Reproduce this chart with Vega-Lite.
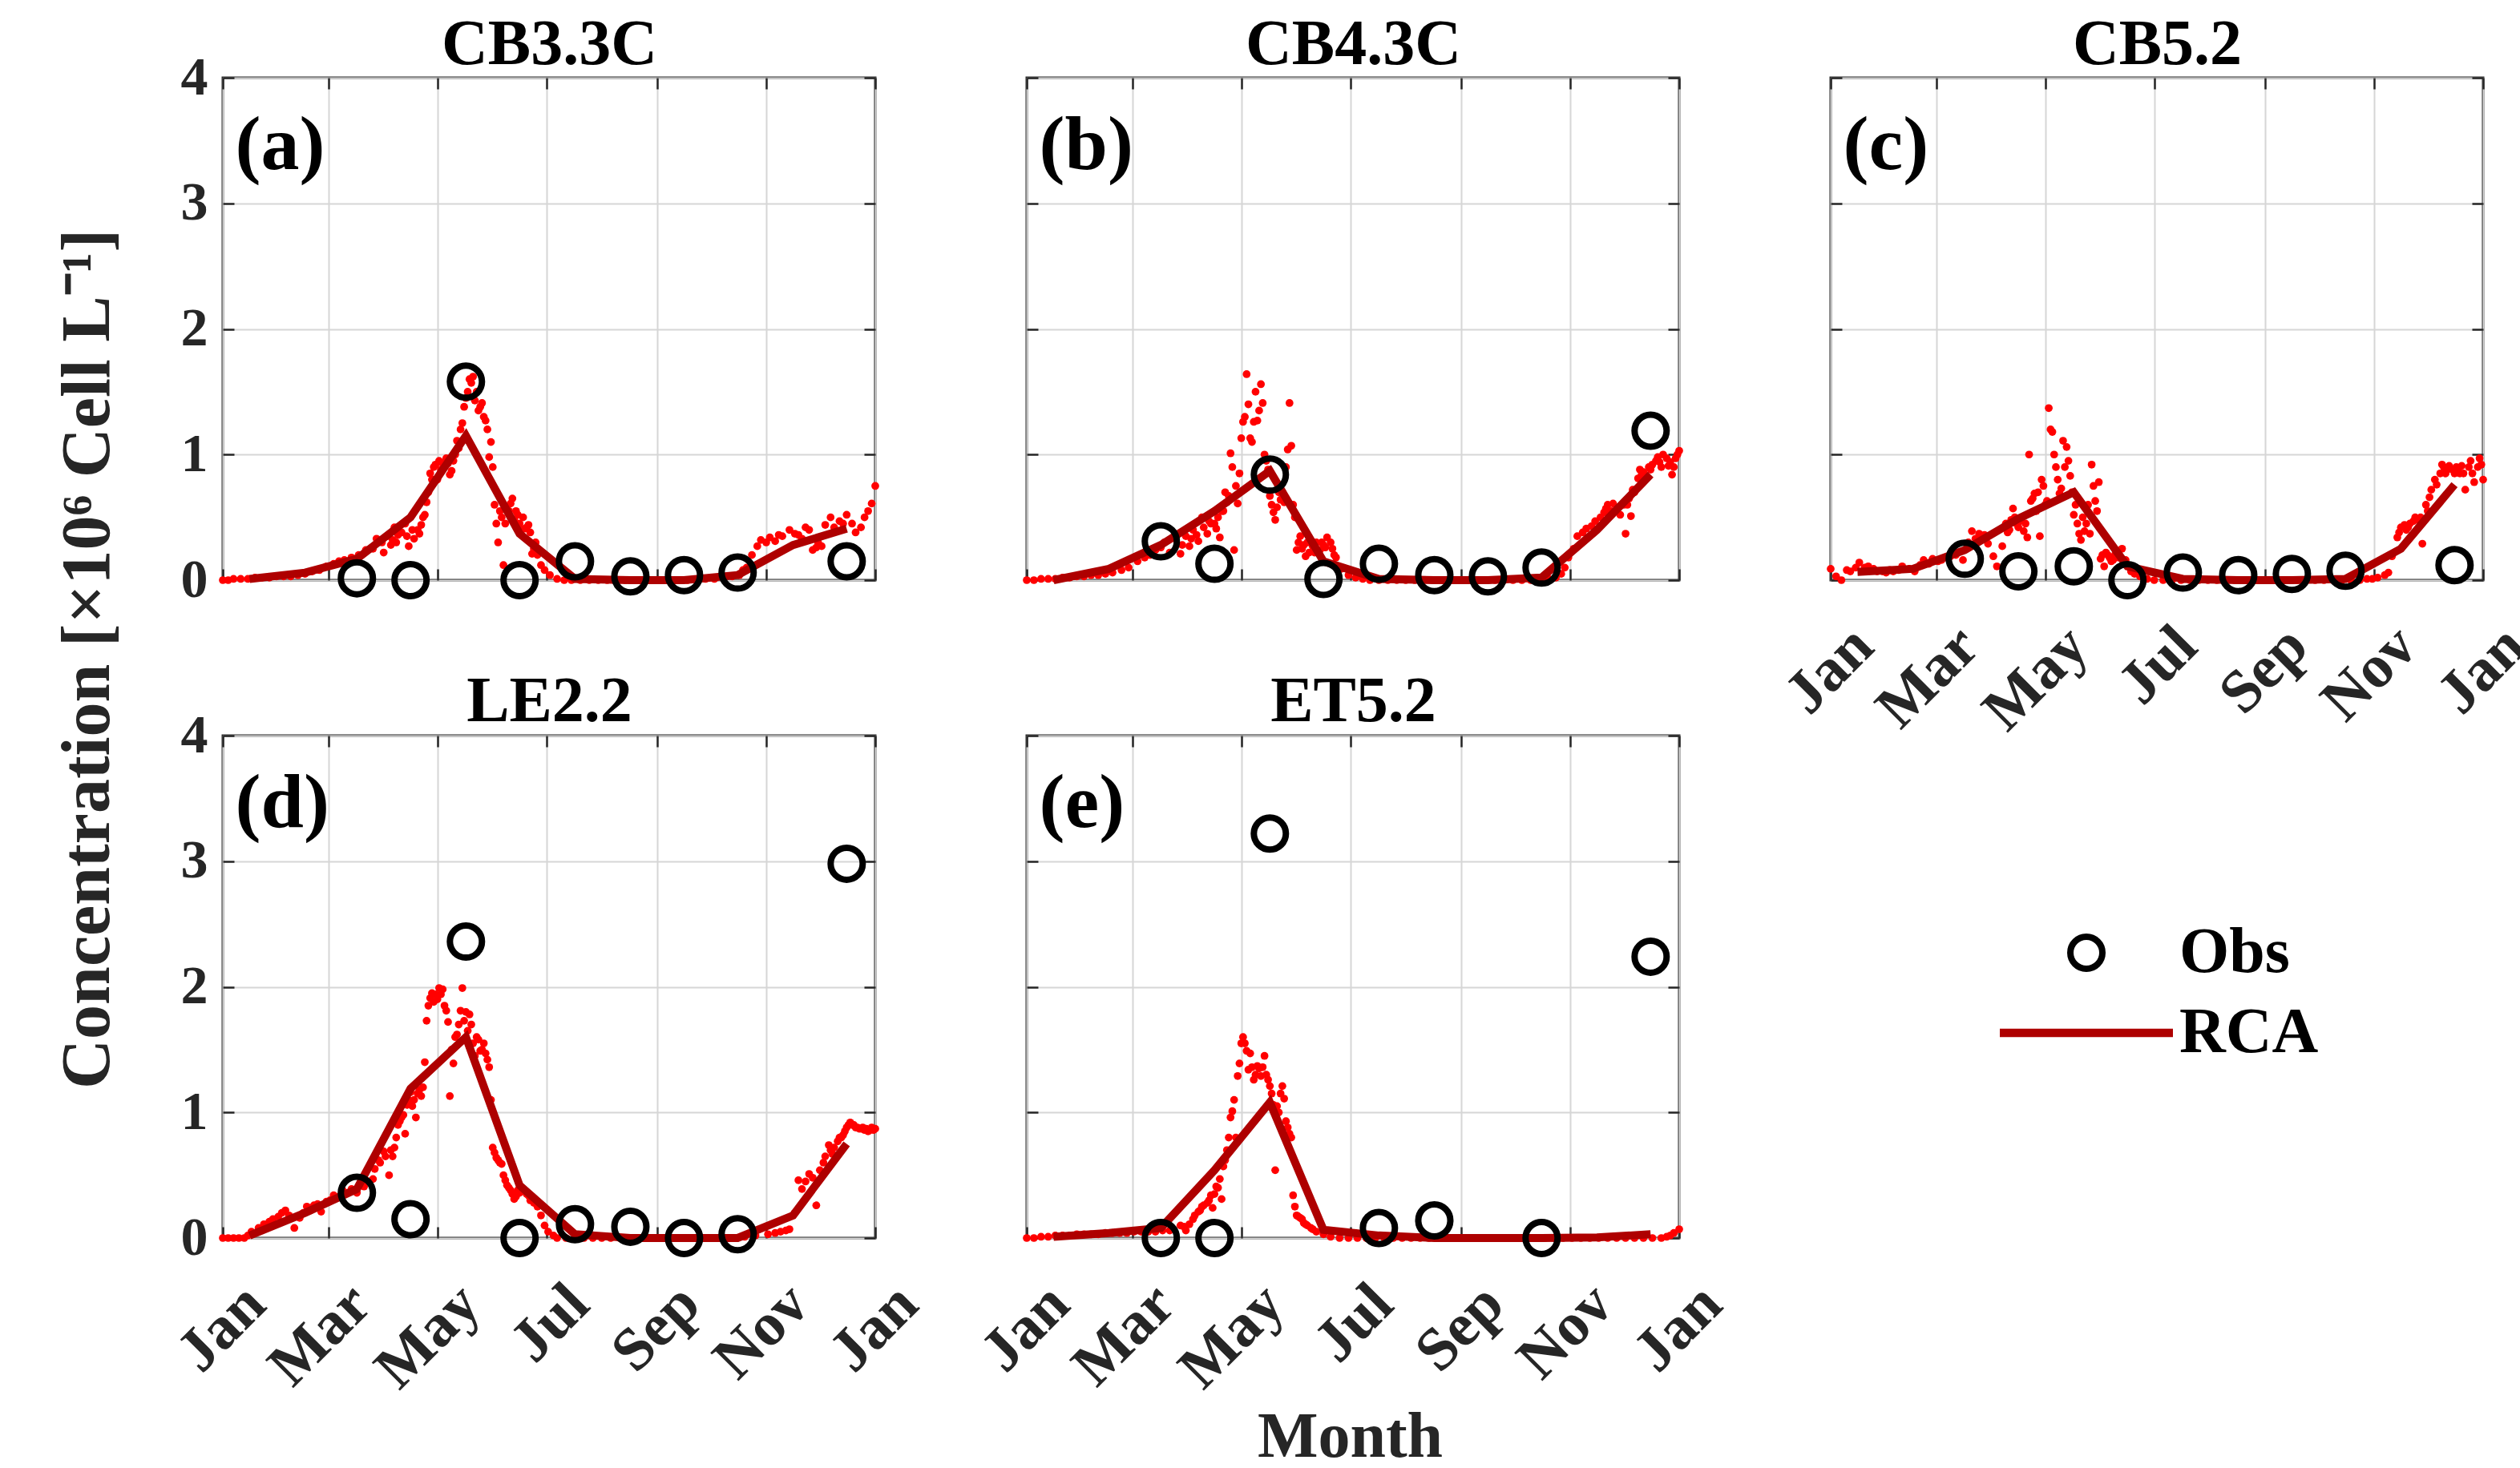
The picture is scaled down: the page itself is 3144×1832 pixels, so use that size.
{
  "$schema": "https://vega.github.io/schema/vega-lite/v6.json",
  "background": "white",
  "padding": {"left": 64, "top": 13, "right": 5, "bottom": 0},
  "config": {
    "font": "Liberation Serif",
    "view": {"stroke": "#262626", "strokeWidth": 3},
    "axis": {
      "labelFont": "Liberation Serif", "labelFontSize": 68, "labelFontWeight": "bold", "labelColor": "#262626",
      "labelFlush": false, "labelOverlap": false, "labelBound": false,
      "domain": false, "ticks": true, "tickColor": "#262626", "tickWidth": 2.5, "tickSize": -14,
      "gridColor": "#d6d6d6", "gridWidth": 2,
      "titleFont": "Liberation Serif", "titleFontWeight": "bold", "titleColor": "#262626"
    },
    "axisBottom": {"labelAngle": -45, "labelAlign": "right", "labelBaseline": "top", "labelPadding": 58, "labelOffset": 14, "labelFontSize": 76},
    "axisLeft": {"labelPadding": 33},
    "axisTop": {"titleFontSize": 80, "titleColor": "#000000", "titleAlign": "center", "titleBaseline": "alphabetic", "titleX": 407, "titleY": -18},
    "circle": {"size": 95, "color": "#ff0000", "opacity": 1},
    "line": {"color": "#ae0000", "strokeWidth": 10},
    "point": {"filled": false, "size": 1600, "strokeWidth": 8, "color": "#000000", "opacity": 1},
    "text": {"font": "Liberation Serif", "fontSize": 96, "fontWeight": "bold", "align": "left", "baseline": "alphabetic", "color": "#000000"}
  },
  "datasets": {
    "dots_a": [
      {"day":0,"v":0},{"day":3,"v":0},{"day":6,"v":0.01},{"day":10,"v":0.01},{"day":14,"v":0.01},{"day":18,"v":0.02},{"day":22,"v":0.02},{"day":26,"v":0.02},{"day":30,"v":0.03},{"day":34,"v":0.03},{"day":38,"v":0.03},{"day":42,"v":0.04},{"day":46,"v":0.05},{"day":50,"v":0.07},{"day":54,"v":0.08},{"day":58,"v":0.11},{"day":62,"v":0.13},{"day":65,"v":0.15},{"day":68,"v":0.16},{"day":72,"v":0.18},{"day":76,"v":0.2},{"day":80,"v":0.24},{"day":84,"v":0.25},{"day":86,"v":0.33},{"day":89,"v":0.3},{"day":90,"v":0.22},{"day":92,"v":0.35},{"day":94,"v":0.28},{"day":95,"v":0.32},{"day":96,"v":0.42},{"day":97,"v":0.3},{"day":98,"v":0.36},{"day":100,"v":0.38},{"day":102,"v":0.45},{"day":103,"v":0.35},{"day":104,"v":0.27},{"day":106,"v":0.4},{"day":107,"v":0.33},{"day":109,"v":0.4},{"day":110,"v":0.37},{"day":111,"v":0.44},{"day":112,"v":0.5},{"day":113,"v":0.52},{"day":114,"v":0.62},{"day":115,"v":0.7},{"day":116,"v":0.85},{"day":117,"v":0.8},{"day":118,"v":0.9},{"day":119,"v":0.92},{"day":120,"v":0.8},{"day":121,"v":0.95},{"day":122,"v":0.88},{"day":123,"v":0.93},{"day":124,"v":0.9},{"day":125,"v":0.97},{"day":126,"v":0.93},{"day":127,"v":0.84},{"day":128,"v":0.87},{"day":129,"v":0.95},{"day":130,"v":1.0},{"day":131,"v":1.11},{"day":132,"v":1.05},{"day":133,"v":1.2},{"day":134,"v":1.25},{"day":135,"v":1.38},{"day":136,"v":1.45},{"day":137,"v":1.5},{"day":138,"v":1.6},{"day":139,"v":1.57},{"day":140,"v":1.62},{"day":141,"v":1.43},{"day":142,"v":1.5},{"day":143,"v":1.35},{"day":144,"v":1.38},{"day":145,"v":1.41},{"day":146,"v":1.3},{"day":147,"v":1.27},{"day":148,"v":1.2},{"day":149,"v":0.98},{"day":150,"v":1.1},{"day":151,"v":0.9},{"day":152,"v":0.6},{"day":153,"v":0.45},{"day":154,"v":0.3},{"day":155,"v":0.55},{"day":156,"v":0.5},{"day":157,"v":0.12},{"day":158,"v":0.45},{"day":159,"v":0.58},{"day":160,"v":0.55},{"day":161,"v":0.61},{"day":162,"v":0.65},{"day":163,"v":0.48},{"day":164,"v":0.55},{"day":165,"v":0.52},{"day":166,"v":0.45},{"day":167,"v":0.4},{"day":168,"v":0.5},{"day":169,"v":0.41},{"day":170,"v":0.42},{"day":171,"v":0.44},{"day":172,"v":0.38},{"day":173,"v":0.21},{"day":174,"v":0.25},{"day":175,"v":0.3},{"day":176,"v":0.2},{"day":178,"v":0.12},{"day":180,"v":0.08},{"day":183,"v":0.04},{"day":187,"v":0.01},{"day":191,"v":0},{"day":195,"v":0},{"day":200,"v":0},{"day":205,"v":0},{"day":210,"v":0},{"day":215,"v":0},{"day":220,"v":0},{"day":225,"v":0},{"day":230,"v":0},{"day":235,"v":0},{"day":240,"v":0},{"day":245,"v":0},{"day":250,"v":0},{"day":255,"v":0},{"day":260,"v":0},{"day":265,"v":0},{"day":270,"v":0.01},{"day":275,"v":0.01},{"day":280,"v":0.02},{"day":285,"v":0.03},{"day":289,"v":0.04},{"day":291,"v":0.08},{"day":293,"v":0.1},{"day":296,"v":0.2},{"day":299,"v":0.27},{"day":301,"v":0.32},{"day":304,"v":0.3},{"day":306,"v":0.34},{"day":309,"v":0.31},{"day":311,"v":0.36},{"day":313,"v":0.35},{"day":317,"v":0.4},{"day":320,"v":0.37},{"day":322,"v":0.36},{"day":324,"v":0.33},{"day":326,"v":0.42},{"day":328,"v":0.4},{"day":330,"v":0.24},{"day":332,"v":0.26},{"day":333,"v":0.3},{"day":335,"v":0.27},{"day":337,"v":0.44},{"day":340,"v":0.5},{"day":342,"v":0.42},{"day":345,"v":0.47},{"day":347,"v":0.45},{"day":349,"v":0.52},{"day":352,"v":0.45},{"day":354,"v":0.38},{"day":357,"v":0.42},{"day":359,"v":0.5},{"day":361,"v":0.55},{"day":363,"v":0.61},{"day":365,"v":0.75}
    ],
    "rca_a": [
      {"day":15,"v":0.01},{"day":46,"v":0.06},{"day":75,"v":0.17},{"day":105,"v":0.5},{"day":136,"v":1.15},{"day":166,"v":0.37},{"day":197,"v":0.01},{"day":228,"v":0},{"day":258,"v":0},{"day":288,"v":0.04},{"day":319,"v":0.28},{"day":349,"v":0.41}
    ],
    "obs_a": [
      {"day":75,"v":0.015},{"day":105,"v":0},{"day":136,"v":1.58},{"day":166,"v":0},{"day":197,"v":0.15},{"day":228,"v":0.03},{"day":258,"v":0.04},{"day":288,"v":0.06},{"day":349,"v":0.15}
    ],
    "dots_b": [
      {"day":0,"v":0},{"day":4,"v":0},{"day":8,"v":0.01},{"day":12,"v":0.01},{"day":16,"v":0.01},{"day":20,"v":0.02},{"day":24,"v":0.02},{"day":28,"v":0.03},{"day":32,"v":0.03},{"day":36,"v":0.04},{"day":40,"v":0.04},{"day":44,"v":0.05},{"day":48,"v":0.06},{"day":53,"v":0.08},{"day":57,"v":0.1},{"day":62,"v":0.15},{"day":66,"v":0.18},{"day":69,"v":0.2},{"day":72,"v":0.24},{"day":75,"v":0.26},{"day":77,"v":0.3},{"day":80,"v":0.22},{"day":83,"v":0.33},{"day":86,"v":0.21},{"day":87,"v":0.28},{"day":89,"v":0.35},{"day":91,"v":0.27},{"day":92,"v":0.33},{"day":93,"v":0.4},{"day":95,"v":0.36},{"day":96,"v":0.31},{"day":98,"v":0.5},{"day":99,"v":0.42},{"day":101,"v":0.37},{"day":102,"v":0.47},{"day":103,"v":0.45},{"day":105,"v":0.45},{"day":106,"v":0.41},{"day":107,"v":0.5},{"day":108,"v":0.34},{"day":109,"v":0.55},{"day":110,"v":0.55},{"day":111,"v":0.7},{"day":112,"v":0.62},{"day":113,"v":0.67},{"day":114,"v":1.01},{"day":115,"v":0.9},{"day":116,"v":0.24},{"day":117,"v":0.75},{"day":118,"v":0.61},{"day":119,"v":0.85},{"day":120,"v":1.13},{"day":121,"v":1.26},{"day":122,"v":1.3},{"day":123,"v":1.64},{"day":124,"v":1.4},{"day":125,"v":1.13},{"day":126,"v":1.1},{"day":127,"v":1.26},{"day":128,"v":1.5},{"day":129,"v":1.27},{"day":130,"v":1.35},{"day":131,"v":1.56},{"day":132,"v":1.41},{"day":133,"v":1.0},{"day":134,"v":0.95},{"day":135,"v":0.88},{"day":136,"v":0.67},{"day":137,"v":0.6},{"day":138,"v":0.54},{"day":139,"v":0.48},{"day":140,"v":0.58},{"day":141,"v":0.7},{"day":142,"v":0.64},{"day":143,"v":0.7},{"day":144,"v":0.62},{"day":145,"v":0.9},{"day":146,"v":1.04},{"day":147,"v":1.41},{"day":148,"v":1.07},{"day":149,"v":0.6},{"day":150,"v":0.5},{"day":151,"v":0.24},{"day":152,"v":0.3},{"day":153,"v":0.35},{"day":154,"v":0.25},{"day":155,"v":0.28},{"day":156,"v":0.19},{"day":157,"v":0.3},{"day":158,"v":0.22},{"day":159,"v":0.31},{"day":160,"v":0.27},{"day":161,"v":0.22},{"day":162,"v":0.3},{"day":164,"v":0.24},{"day":165,"v":0.3},{"day":166,"v":0.28},{"day":167,"v":0.26},{"day":168,"v":0.34},{"day":170,"v":0.3},{"day":171,"v":0.25},{"day":172,"v":0.2},{"day":173,"v":0.18},{"day":176,"v":0.09},{"day":180,"v":0.04},{"day":184,"v":0.02},{"day":188,"v":0.01},{"day":192,"v":0},{"day":197,"v":0},{"day":202,"v":0},{"day":207,"v":0},{"day":212,"v":0},{"day":217,"v":0},{"day":222,"v":0},{"day":227,"v":0},{"day":232,"v":0},{"day":237,"v":0},{"day":242,"v":0},{"day":247,"v":0},{"day":252,"v":0},{"day":257,"v":0},{"day":262,"v":0},{"day":267,"v":0},{"day":272,"v":0},{"day":277,"v":0},{"day":282,"v":0},{"day":287,"v":0.01},{"day":292,"v":0.01},{"day":296,"v":0.02},{"day":299,"v":0.05},{"day":301,"v":0.1},{"day":303,"v":0.18},{"day":306,"v":0.25},{"day":308,"v":0.35},{"day":311,"v":0.38},{"day":313,"v":0.41},{"day":316,"v":0.43},{"day":318,"v":0.47},{"day":321,"v":0.5},{"day":323,"v":0.54},{"day":324,"v":0.57},{"day":325,"v":0.6},{"day":327,"v":0.55},{"day":328,"v":0.61},{"day":330,"v":0.56},{"day":331,"v":0.58},{"day":332,"v":0.52},{"day":334,"v":0.6},{"day":335,"v":0.37},{"day":336,"v":0.6},{"day":337,"v":0.65},{"day":338,"v":0.51},{"day":339,"v":0.72},{"day":340,"v":0.7},{"day":342,"v":0.81},{"day":343,"v":0.88},{"day":344,"v":0.84},{"day":345,"v":0.86},{"day":346,"v":0.8},{"day":348,"v":0.9},{"day":349,"v":0.88},{"day":350,"v":0.92},{"day":352,"v":0.95},{"day":353,"v":0.98},{"day":354,"v":0.94},{"day":355,"v":0.9},{"day":356,"v":1.0},{"day":358,"v":0.97},{"day":359,"v":0.91},{"day":360,"v":0.94},{"day":361,"v":0.84},{"day":362,"v":0.9},{"day":363,"v":0.97},{"day":364,"v":1.0},{"day":365,"v":1.03}
    ],
    "rca_b": [
      {"day":15,"v":0.0},{"day":46,"v":0.09},{"day":75,"v":0.28},{"day":105,"v":0.55},{"day":136,"v":0.87},{"day":166,"v":0.15},{"day":197,"v":0.01},{"day":228,"v":0},{"day":258,"v":0},{"day":288,"v":0.02},{"day":319,"v":0.4},{"day":349,"v":0.84}
    ],
    "obs_b": [
      {"day":75,"v":0.31},{"day":105,"v":0.13},{"day":136,"v":0.84},{"day":166,"v":0.01},{"day":197,"v":0.13},{"day":228,"v":0.04},{"day":258,"v":0.03},{"day":288,"v":0.1},{"day":349,"v":1.19}
    ],
    "dots_c": [
      {"day":0,"v":0.09},{"day":3,"v":0.03},{"day":6,"v":0.0},{"day":9,"v":0.08},{"day":11,"v":0.07},{"day":14,"v":0.1},{"day":16,"v":0.14},{"day":19,"v":0.1},{"day":21,"v":0.11},{"day":24,"v":0.09},{"day":26,"v":0.07},{"day":29,"v":0.07},{"day":31,"v":0.06},{"day":33,"v":0.08},{"day":35,"v":0.07},{"day":38,"v":0.08},{"day":40,"v":0.11},{"day":44,"v":0.09},{"day":47,"v":0.07},{"day":50,"v":0.12},{"day":52,"v":0.16},{"day":55,"v":0.13},{"day":57,"v":0.17},{"day":60,"v":0.15},{"day":62,"v":0.16},{"day":65,"v":0.18},{"day":67,"v":0.19},{"day":70,"v":0.2},{"day":74,"v":0.16},{"day":77,"v":0.3},{"day":79,"v":0.39},{"day":81,"v":0.33},{"day":83,"v":0.37},{"day":84,"v":0.34},{"day":86,"v":0.36},{"day":88,"v":0.29},{"day":91,"v":0.19},{"day":93,"v":0.11},{"day":96,"v":0.27},{"day":98,"v":0.45},{"day":99,"v":0.38},{"day":100,"v":0.4},{"day":101,"v":0.48},{"day":102,"v":0.57},{"day":103,"v":0.5},{"day":104,"v":0.45},{"day":105,"v":0.42},{"day":106,"v":0.47},{"day":107,"v":0.5},{"day":108,"v":0.39},{"day":109,"v":0.45},{"day":110,"v":0.34},{"day":111,"v":1.0},{"day":112,"v":0.63},{"day":113,"v":0.65},{"day":114,"v":0.69},{"day":115,"v":0.55},{"day":116,"v":0.7},{"day":117,"v":0.35},{"day":118,"v":0.8},{"day":119,"v":0.75},{"day":120,"v":0.6},{"day":121,"v":0.63},{"day":122,"v":1.37},{"day":123,"v":1.2},{"day":124,"v":1.18},{"day":125,"v":1.0},{"day":126,"v":0.9},{"day":127,"v":0.8},{"day":128,"v":0.69},{"day":129,"v":0.73},{"day":130,"v":1.11},{"day":131,"v":0.9},{"day":132,"v":1.06},{"day":133,"v":0.95},{"day":134,"v":0.83},{"day":135,"v":0.7},{"day":136,"v":0.52},{"day":137,"v":0.6},{"day":138,"v":0.45},{"day":139,"v":0.37},{"day":140,"v":0.32},{"day":141,"v":0.5},{"day":142,"v":0.39},{"day":143,"v":0.45},{"day":144,"v":0.6},{"day":145,"v":0.37},{"day":146,"v":0.92},{"day":147,"v":0.75},{"day":148,"v":0.63},{"day":149,"v":0.55},{"day":150,"v":0.78},{"day":151,"v":0.17},{"day":152,"v":0.2},{"day":153,"v":0.11},{"day":154,"v":0.22},{"day":155,"v":0.2},{"day":156,"v":0.18},{"day":157,"v":0.15},{"day":158,"v":0.16},{"day":159,"v":0.2},{"day":160,"v":0.22},{"day":161,"v":0.18},{"day":163,"v":0.25},{"day":165,"v":0.16},{"day":168,"v":0.07},{"day":170,"v":0.05},{"day":173,"v":0.03},{"day":177,"v":0.01},{"day":181,"v":0},{"day":186,"v":0},{"day":191,"v":0},{"day":196,"v":0},{"day":201,"v":0},{"day":206,"v":0},{"day":211,"v":0},{"day":216,"v":0},{"day":221,"v":0},{"day":226,"v":0},{"day":231,"v":0},{"day":236,"v":0},{"day":241,"v":0},{"day":246,"v":0},{"day":251,"v":0},{"day":256,"v":0},{"day":261,"v":0},{"day":266,"v":0},{"day":271,"v":0},{"day":276,"v":0},{"day":281,"v":0},{"day":286,"v":0},{"day":291,"v":0},{"day":296,"v":0},{"day":300,"v":0.01},{"day":303,"v":0.01},{"day":306,"v":0.02},{"day":310,"v":0.04},{"day":312,"v":0.06},{"day":314,"v":0.19},{"day":317,"v":0.34},{"day":318,"v":0.38},{"day":319,"v":0.42},{"day":321,"v":0.44},{"day":322,"v":0.4},{"day":323,"v":0.42},{"day":324,"v":0.45},{"day":326,"v":0.47},{"day":327,"v":0.5},{"day":329,"v":0.48},{"day":330,"v":0.5},{"day":331,"v":0.29},{"day":333,"v":0.6},{"day":334,"v":0.55},{"day":335,"v":0.66},{"day":336,"v":0.72},{"day":338,"v":0.8},{"day":339,"v":0.76},{"day":341,"v":0.85},{"day":342,"v":0.92},{"day":343,"v":0.9},{"day":344,"v":0.85},{"day":345,"v":0.88},{"day":346,"v":0.91},{"day":348,"v":0.88},{"day":349,"v":0.85},{"day":350,"v":0.9},{"day":351,"v":0.87},{"day":352,"v":0.85},{"day":353,"v":0.91},{"day":354,"v":0.85},{"day":355,"v":0.72},{"day":357,"v":0.9},{"day":358,"v":0.95},{"day":359,"v":0.85},{"day":360,"v":0.78},{"day":362,"v":0.9},{"day":363,"v":0.97},{"day":364,"v":0.92},{"day":365,"v":0.8}
    ],
    "rca_c": [
      {"day":15,"v":0.065},{"day":46,"v":0.09},{"day":75,"v":0.24},{"day":105,"v":0.49},{"day":136,"v":0.7},{"day":166,"v":0.11},{"day":197,"v":0.01},{"day":228,"v":0},{"day":258,"v":0},{"day":288,"v":0.01},{"day":319,"v":0.25},{"day":349,"v":0.76}
    ],
    "obs_c": [
      {"day":75,"v":0.17},{"day":105,"v":0.07},{"day":136,"v":0.11},{"day":166,"v":0},{"day":197,"v":0.06},{"day":228,"v":0.04},{"day":258,"v":0.05},{"day":288,"v":0.075},{"day":349,"v":0.12}
    ],
    "dots_d": [
      {"day":0,"v":0},{"day":3,"v":0},{"day":6,"v":0},{"day":9,"v":0},{"day":12,"v":0},{"day":14,"v":0.02},{"day":16,"v":0.05},{"day":20,"v":0.08},{"day":23,"v":0.11},{"day":26,"v":0.13},{"day":28,"v":0.15},{"day":31,"v":0.17},{"day":33,"v":0.2},{"day":35,"v":0.22},{"day":37,"v":0.18},{"day":40,"v":0.08},{"day":43,"v":0.16},{"day":45,"v":0.2},{"day":47,"v":0.25},{"day":49,"v":0.22},{"day":51,"v":0.26},{"day":53,"v":0.27},{"day":55,"v":0.21},{"day":58,"v":0.29},{"day":60,"v":0.3},{"day":62,"v":0.34},{"day":65,"v":0.33},{"day":67,"v":0.38},{"day":70,"v":0.36},{"day":72,"v":0.39},{"day":75,"v":0.36},{"day":77,"v":0.44},{"day":79,"v":0.41},{"day":82,"v":0.45},{"day":84,"v":0.47},{"day":85,"v":0.55},{"day":87,"v":0.62},{"day":88,"v":0.6},{"day":90,"v":0.69},{"day":91,"v":0.65},{"day":93,"v":0.5},{"day":94,"v":0.7},{"day":95,"v":0.65},{"day":96,"v":0.72},{"day":97,"v":0.8},{"day":98,"v":0.9},{"day":99,"v":0.93},{"day":100,"v":0.96},{"day":101,"v":0.98},{"day":102,"v":0.83},{"day":103,"v":1.06},{"day":104,"v":1.1},{"day":105,"v":1.16},{"day":106,"v":1.05},{"day":107,"v":1.1},{"day":108,"v":0.96},{"day":109,"v":1.15},{"day":110,"v":1.18},{"day":111,"v":1.13},{"day":112,"v":1.2},{"day":113,"v":1.4},{"day":114,"v":1.73},{"day":115,"v":1.85},{"day":116,"v":1.91},{"day":117,"v":1.95},{"day":118,"v":1.88},{"day":119,"v":1.94},{"day":120,"v":1.9},{"day":121,"v":1.99},{"day":122,"v":1.94},{"day":123,"v":1.98},{"day":124,"v":1.85},{"day":125,"v":1.81},{"day":126,"v":1.72},{"day":127,"v":1.13},{"day":128,"v":1.5},{"day":129,"v":1.39},{"day":130,"v":1.6},{"day":131,"v":1.62},{"day":132,"v":1.7},{"day":133,"v":1.81},{"day":134,"v":1.99},{"day":135,"v":1.73},{"day":136,"v":1.8},{"day":137,"v":1.65},{"day":138,"v":1.78},{"day":139,"v":1.7},{"day":140,"v":1.55},{"day":141,"v":1.45},{"day":142,"v":1.6},{"day":143,"v":1.58},{"day":144,"v":1.49},{"day":145,"v":1.5},{"day":146,"v":1.55},{"day":147,"v":1.47},{"day":148,"v":1.42},{"day":149,"v":1.36},{"day":150,"v":1.1},{"day":151,"v":0.72},{"day":152,"v":0.68},{"day":153,"v":0.64},{"day":154,"v":0.62},{"day":155,"v":0.6},{"day":156,"v":0.59},{"day":157,"v":0.5},{"day":158,"v":0.46},{"day":159,"v":0.42},{"day":160,"v":0.4},{"day":161,"v":0.38},{"day":162,"v":0.35},{"day":163,"v":0.31},{"day":164,"v":0.33},{"day":165,"v":0.38},{"day":166,"v":0.36},{"day":167,"v":0.4},{"day":168,"v":0.39},{"day":169,"v":0.37},{"day":170,"v":0.35},{"day":171,"v":0.34},{"day":172,"v":0.3},{"day":173,"v":0.33},{"day":174,"v":0.28},{"day":176,"v":0.25},{"day":178,"v":0.18},{"day":180,"v":0.1},{"day":182,"v":0.05},{"day":185,"v":0.02},{"day":187,"v":0},{"day":192,"v":0},{"day":197,"v":0},{"day":202,"v":0},{"day":207,"v":0},{"day":212,"v":0},{"day":217,"v":0},{"day":222,"v":0},{"day":227,"v":0},{"day":232,"v":0},{"day":237,"v":0},{"day":242,"v":0},{"day":247,"v":0},{"day":252,"v":0},{"day":257,"v":0},{"day":262,"v":0},{"day":267,"v":0},{"day":272,"v":0},{"day":277,"v":0},{"day":282,"v":0},{"day":287,"v":0},{"day":292,"v":0.01},{"day":298,"v":0.02},{"day":305,"v":0.03},{"day":309,"v":0.04},{"day":312,"v":0.05},{"day":315,"v":0.06},{"day":317,"v":0.07},{"day":320,"v":0.2},{"day":322,"v":0.46},{"day":324,"v":0.39},{"day":326,"v":0.45},{"day":328,"v":0.51},{"day":330,"v":0.48},{"day":332,"v":0.26},{"day":334,"v":0.54},{"day":336,"v":0.6},{"day":337,"v":0.65},{"day":339,"v":0.74},{"day":340,"v":0.7},{"day":341,"v":0.67},{"day":342,"v":0.72},{"day":344,"v":0.77},{"day":345,"v":0.8},{"day":346,"v":0.8},{"day":347,"v":0.82},{"day":348,"v":0.85},{"day":349,"v":0.88},{"day":350,"v":0.9},{"day":351,"v":0.92},{"day":352,"v":0.9},{"day":353,"v":0.9},{"day":354,"v":0.88},{"day":355,"v":0.88},{"day":356,"v":0.87},{"day":357,"v":0.87},{"day":358,"v":0.88},{"day":359,"v":0.86},{"day":360,"v":0.87},{"day":361,"v":0.85},{"day":362,"v":0.86},{"day":363,"v":0.88},{"day":364,"v":0.86},{"day":365,"v":0.87}
    ],
    "rca_d": [
      {"day":15,"v":0.02},{"day":46,"v":0.2},{"day":75,"v":0.39},{"day":105,"v":1.19},{"day":136,"v":1.6},{"day":166,"v":0.42},{"day":197,"v":0.03},{"day":228,"v":0},{"day":258,"v":0},{"day":288,"v":0},{"day":319,"v":0.18},{"day":349,"v":0.75}
    ],
    "obs_d": [
      {"day":75,"v":0.36},{"day":105,"v":0.15},{"day":136,"v":2.36},{"day":166,"v":0},{"day":197,"v":0.11},{"day":228,"v":0.09},{"day":258,"v":0},{"day":288,"v":0.03},{"day":349,"v":2.98}
    ],
    "dots_e": [
      {"day":0,"v":0},{"day":4,"v":0},{"day":8,"v":0.01},{"day":12,"v":0.01},{"day":16,"v":0.02},{"day":20,"v":0.02},{"day":24,"v":0.02},{"day":28,"v":0.03},{"day":32,"v":0.03},{"day":36,"v":0.03},{"day":40,"v":0.03},{"day":44,"v":0.04},{"day":48,"v":0.04},{"day":52,"v":0.04},{"day":56,"v":0.04},{"day":60,"v":0.05},{"day":64,"v":0.05},{"day":68,"v":0.05},{"day":72,"v":0.05},{"day":76,"v":0.06},{"day":80,"v":0.06},{"day":82,"v":0.07},{"day":86,"v":0.1},{"day":88,"v":0.09},{"day":89,"v":0.06},{"day":91,"v":0.11},{"day":93,"v":0.15},{"day":94,"v":0.18},{"day":96,"v":0.21},{"day":97,"v":0.22},{"day":98,"v":0.25},{"day":99,"v":0.26},{"day":101,"v":0.28},{"day":102,"v":0.3},{"day":103,"v":0.34},{"day":104,"v":0.24},{"day":105,"v":0.35},{"day":106,"v":0.41},{"day":107,"v":0.4},{"day":108,"v":0.47},{"day":109,"v":0.31},{"day":110,"v":0.57},{"day":111,"v":0.62},{"day":112,"v":0.7},{"day":113,"v":0.8},{"day":114,"v":0.96},{"day":115,"v":1.01},{"day":116,"v":1.1},{"day":117,"v":0.8},{"day":118,"v":1.29},{"day":119,"v":1.39},{"day":120,"v":1.55},{"day":121,"v":1.6},{"day":122,"v":1.55},{"day":123,"v":1.49},{"day":124,"v":1.34},{"day":125,"v":1.47},{"day":126,"v":1.36},{"day":127,"v":1.26},{"day":128,"v":1.3},{"day":129,"v":1.37},{"day":130,"v":1.35},{"day":131,"v":1.29},{"day":132,"v":1.36},{"day":133,"v":1.45},{"day":134,"v":1.3},{"day":135,"v":1.26},{"day":136,"v":1.21},{"day":137,"v":1.15},{"day":138,"v":1.06},{"day":139,"v":0.54},{"day":140,"v":1.05},{"day":141,"v":1.0},{"day":142,"v":1.15},{"day":143,"v":1.21},{"day":144,"v":1.11},{"day":145,"v":0.93},{"day":146,"v":0.88},{"day":147,"v":0.83},{"day":148,"v":0.8},{"day":149,"v":0.34},{"day":150,"v":0.25},{"day":151,"v":0.18},{"day":152,"v":0.17},{"day":153,"v":0.16},{"day":154,"v":0.15},{"day":155,"v":0.12},{"day":156,"v":0.11},{"day":157,"v":0.1},{"day":159,"v":0.08},{"day":160,"v":0.07},{"day":162,"v":0.05},{"day":166,"v":0.03},{"day":170,"v":0.01},{"day":175,"v":0},{"day":180,"v":0},{"day":185,"v":0},{"day":190,"v":0},{"day":195,"v":0},{"day":200,"v":0},{"day":205,"v":0},{"day":210,"v":0},{"day":215,"v":0},{"day":220,"v":0},{"day":225,"v":0},{"day":230,"v":0},{"day":235,"v":0},{"day":240,"v":0},{"day":245,"v":0},{"day":250,"v":0},{"day":255,"v":0},{"day":260,"v":0},{"day":265,"v":0},{"day":270,"v":0},{"day":275,"v":0},{"day":280,"v":0},{"day":285,"v":0},{"day":290,"v":0},{"day":295,"v":0},{"day":300,"v":0},{"day":305,"v":0},{"day":310,"v":0},{"day":315,"v":0},{"day":320,"v":0},{"day":325,"v":0},{"day":330,"v":0},{"day":335,"v":0},{"day":340,"v":0},{"day":345,"v":0},{"day":350,"v":0},{"day":355,"v":0},{"day":358,"v":0.01},{"day":360,"v":0.02},{"day":362,"v":0.04},{"day":365,"v":0.07}
    ],
    "rca_e": [
      {"day":15,"v":0.01},{"day":46,"v":0.04},{"day":75,"v":0.08},{"day":105,"v":0.54},{"day":136,"v":1.08},{"day":166,"v":0.065},{"day":197,"v":0.02},{"day":228,"v":0},{"day":258,"v":0},{"day":288,"v":0},{"day":319,"v":0.005},{"day":349,"v":0.03}
    ],
    "obs_e": [
      {"day":75,"v":0,"series":"Obs"},{"day":105,"v":0,"series":"Obs"},{"day":136,"v":3.22,"series":"Obs"},{"day":197,"v":0.08,"series":"Obs"},{"day":228,"v":0.14,"series":"Obs"},{"day":288,"v":0,"series":"Obs"},{"day":349,"v":2.24,"series":"Obs"}
    ]
  },
  "columns": 3,
  "spacing": {"row": 194, "column": 189},
  "bounds": "flush",
  "resolve": {
    "scale": {"color": "independent", "shape": "independent"},
    "legend": {"color": "independent", "shape": "independent"}
  },
  "concat": [
    {
      "width": 814, "height": 627,
      "resolve": {"axis": {"x": "independent", "y": "independent"}},
      "layer": [
        {"data": {"name": "dots_a"}, "mark": "circle",
         "encoding": {
           "x": {"field": "day", "type": "quantitative", "scale": {"domain": [0, 365], "nice": false},
                 "axis": {"orient": "bottom", "values": [0, 59, 120, 181, 243, 304, 365], "labels": false, "grid": true, "title": null}},
           "y": {"field": "v", "type": "quantitative", "scale": {"domain": [0, 4], "nice": false},
                 "axis": {"orient": "left", "values": [0, 1, 2, 3, 4], "labels": true, "grid": true, "title": null}}}},
        {"data": {"name": "rca_a"}, "mark": "line",
         "encoding": {
           "x": {"field": "day", "type": "quantitative", "axis": {"orient": "top", "values": [0, 59, 120, 181, 243, 304, 365], "labels": false, "grid": false, "title": "CB3.3C"}},
           "y": {"field": "v", "type": "quantitative", "axis": {"orient": "right", "values": [0, 1, 2, 3, 4], "labels": false, "grid": false, "title": null}}}},
        {"data": {"name": "obs_a"}, "mark": "point",
         "encoding": {
           "x": {"field": "day", "type": "quantitative", "axis": null},
           "y": {"field": "v", "type": "quantitative", "axis": null}}},
        {"data": {"values": [{"tag": "(a)"}]}, "mark": "text",
         "encoding": {
           "x": {"datum": 7, "type": "quantitative", "axis": null},
           "y": {"datum": 3.27, "type": "quantitative", "axis": null},
           "text": {"field": "tag"}}}
      ]
    },
    {
      "width": 814, "height": 627,
      "resolve": {"axis": {"x": "independent", "y": "independent"}},
      "layer": [
        {"data": {"name": "dots_b"}, "mark": "circle",
         "encoding": {
           "x": {"field": "day", "type": "quantitative", "scale": {"domain": [0, 365], "nice": false},
                 "axis": {"orient": "bottom", "values": [0, 59, 120, 181, 243, 304, 365], "labels": false, "grid": true, "title": null}},
           "y": {"field": "v", "type": "quantitative", "scale": {"domain": [0, 4], "nice": false},
                 "axis": {"orient": "left", "values": [0, 1, 2, 3, 4], "labels": false, "grid": true, "title": null}}}},
        {"data": {"name": "rca_b"}, "mark": "line",
         "encoding": {
           "x": {"field": "day", "type": "quantitative", "axis": {"orient": "top", "values": [0, 59, 120, 181, 243, 304, 365], "labels": false, "grid": false, "title": "CB4.3C"}},
           "y": {"field": "v", "type": "quantitative", "axis": {"orient": "right", "values": [0, 1, 2, 3, 4], "labels": false, "grid": false, "title": null}}}},
        {"data": {"name": "obs_b"}, "mark": "point",
         "encoding": {
           "x": {"field": "day", "type": "quantitative", "axis": null},
           "y": {"field": "v", "type": "quantitative", "axis": null}}},
        {"data": {"values": [{"tag": "(b)"}]}, "mark": "text",
         "encoding": {
           "x": {"datum": 7, "type": "quantitative", "axis": null},
           "y": {"datum": 3.27, "type": "quantitative", "axis": null},
           "text": {"field": "tag"}}}
      ]
    },
    {
      "width": 814, "height": 627,
      "resolve": {"axis": {"x": "independent", "y": "independent"}},
      "layer": [
        {"data": {"name": "dots_c"}, "mark": "circle",
         "encoding": {
           "x": {"field": "day", "type": "quantitative", "scale": {"domain": [0, 365], "nice": false},
                 "axis": {"orient": "bottom", "values": [0, 59, 120, 181, 243, 304, 365], "labels": true, "grid": true, "title": null,
                          "labelExpr": "datum.value < 30 ? 'Jan' : datum.value < 90 ? 'Mar' : datum.value < 150 ? 'May' : datum.value < 210 ? 'Jul' : datum.value < 270 ? 'Sep' : datum.value < 330 ? 'Nov' : 'Jan'"}},
           "y": {"field": "v", "type": "quantitative", "scale": {"domain": [0, 4], "nice": false},
                 "axis": {"orient": "left", "values": [0, 1, 2, 3, 4], "labels": false, "grid": true, "title": null}}}},
        {"data": {"name": "rca_c"}, "mark": "line",
         "encoding": {
           "x": {"field": "day", "type": "quantitative", "axis": {"orient": "top", "values": [0, 59, 120, 181, 243, 304, 365], "labels": false, "grid": false, "title": "CB5.2"}},
           "y": {"field": "v", "type": "quantitative", "axis": {"orient": "right", "values": [0, 1, 2, 3, 4], "labels": false, "grid": false, "title": null}}}},
        {"data": {"name": "obs_c"}, "mark": "point",
         "encoding": {
           "x": {"field": "day", "type": "quantitative", "axis": null},
           "y": {"field": "v", "type": "quantitative", "axis": null}}},
        {"data": {"values": [{"tag": "(c)"}]}, "mark": "text",
         "encoding": {
           "x": {"datum": 7, "type": "quantitative", "axis": null},
           "y": {"datum": 3.27, "type": "quantitative", "axis": null},
           "text": {"field": "tag"}}}
      ]
    },
    {
      "width": 814, "height": 627,
      "resolve": {"axis": {"x": "independent", "y": "independent"}},
      "layer": [
        {"data": {"name": "dots_d"}, "mark": "circle",
         "encoding": {
           "x": {"field": "day", "type": "quantitative", "scale": {"domain": [0, 365], "nice": false},
                 "axis": {"orient": "bottom", "values": [0, 59, 120, 181, 243, 304, 365], "labels": true, "grid": true, "title": null,
                          "labelExpr": "datum.value < 30 ? 'Jan' : datum.value < 90 ? 'Mar' : datum.value < 150 ? 'May' : datum.value < 210 ? 'Jul' : datum.value < 270 ? 'Sep' : datum.value < 330 ? 'Nov' : 'Jan'"}},
           "y": {"field": "v", "type": "quantitative", "scale": {"domain": [0, 4], "nice": false},
                 "axis": {"orient": "left", "values": [0, 1, 2, 3, 4], "labels": true, "grid": true,
                          "title": "Concentration [×10⁶ Cell L⁻¹]", "titleFontSize": 86, "titleAngle": 270,
                          "titleAlign": "center", "titleBaseline": "alphabetic", "titleX": -143, "titleY": -96}}}},
        {"data": {"name": "rca_d"}, "mark": "line",
         "encoding": {
           "x": {"field": "day", "type": "quantitative", "axis": {"orient": "top", "values": [0, 59, 120, 181, 243, 304, 365], "labels": false, "grid": false, "title": "LE2.2", "titleY": -19}},
           "y": {"field": "v", "type": "quantitative", "axis": {"orient": "right", "values": [0, 1, 2, 3, 4], "labels": false, "grid": false, "title": null}}}},
        {"data": {"name": "obs_d"}, "mark": "point",
         "encoding": {
           "x": {"field": "day", "type": "quantitative", "axis": null},
           "y": {"field": "v", "type": "quantitative", "axis": null}}},
        {"data": {"values": [{"tag": "(d)"}]}, "mark": "text",
         "encoding": {
           "x": {"datum": 7, "type": "quantitative", "axis": null},
           "y": {"datum": 3.27, "type": "quantitative", "axis": null},
           "text": {"field": "tag"}}}
      ]
    },
    {
      "width": 814, "height": 627,
      "resolve": {"axis": {"x": "independent", "y": "independent"}},
      "layer": [
        {"data": {"name": "dots_e"}, "mark": "circle",
         "encoding": {
           "x": {"field": "day", "type": "quantitative", "scale": {"domain": [0, 365], "nice": false},
                 "axis": {"orient": "bottom", "values": [0, 59, 120, 181, 243, 304, 365], "labels": true, "grid": true,
                          "labelExpr": "datum.value < 30 ? 'Jan' : datum.value < 90 ? 'Mar' : datum.value < 150 ? 'May' : datum.value < 210 ? 'Jul' : datum.value < 270 ? 'Sep' : datum.value < 330 ? 'Nov' : 'Jan'",
                          "title": "Month", "titleFontSize": 80, "titleAlign": "center", "titleBaseline": "alphabetic", "titleX": 403, "titleY": 272}},
           "y": {"field": "v", "type": "quantitative", "scale": {"domain": [0, 4], "nice": false},
                 "axis": {"orient": "left", "values": [0, 1, 2, 3, 4], "labels": false, "grid": true, "title": null}}}},
        {"data": {"name": "rca_e"}, "mark": "line",
         "encoding": {
           "x": {"field": "day", "type": "quantitative", "axis": {"orient": "top", "values": [0, 59, 120, 181, 243, 304, 365], "labels": false, "grid": false, "title": "ET5.2", "titleY": -19}},
           "y": {"field": "v", "type": "quantitative", "axis": {"orient": "right", "values": [0, 1, 2, 3, 4], "labels": false, "grid": false, "title": null}}}},
        {"data": {"name": "obs_e"}, "mark": "point",
         "encoding": {
           "x": {"field": "day", "type": "quantitative", "axis": null},
           "y": {"field": "v", "type": "quantitative", "axis": null},
           "color": {"field": "series", "type": "nominal",
                     "scale": {"domain": ["Obs", "RCA"], "range": ["#000000", "#ae0000"]},
                     "legend": {"title": null, "orient": "none", "legendX": 1282, "legendY": 231, "padding": 0,
                                "symbolSize": 1600, "symbolStrokeWidth": 8, "labelOffset": 76, "rowPadding": 20, "labelLimit": 0,
                                "labelFont": "Liberation Serif", "labelFontSize": 80, "labelFontWeight": "bold", "labelColor": "#000000"}},
           "shape": {"field": "series", "type": "nominal",
                     "scale": {"domain": ["Obs", "RCA"], "range": ["circle", "M-5.2,-0.06H5.2V0.06H-5.2Z"]},
                     "legend": {"title": null, "orient": "none", "legendX": 1282, "legendY": 231, "padding": 0,
                                "symbolSize": 1600, "symbolStrokeWidth": 8, "labelOffset": 76, "rowPadding": 20, "labelLimit": 0,
                                "labelFont": "Liberation Serif", "labelFontSize": 80, "labelFontWeight": "bold", "labelColor": "#000000"}}}},
        {"data": {"values": [{"tag": "(e)"}]}, "mark": "text",
         "encoding": {
           "x": {"datum": 7, "type": "quantitative", "axis": null},
           "y": {"datum": 3.27, "type": "quantitative", "axis": null},
           "text": {"field": "tag"}}}
      ]
    }
  ]
}
